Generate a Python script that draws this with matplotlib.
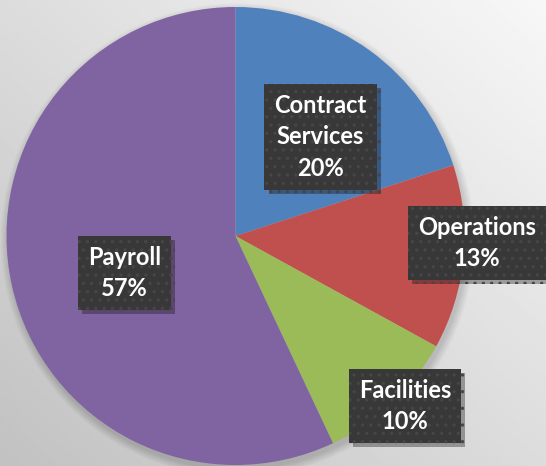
import matplotlib
matplotlib.use("Agg")
import matplotlib.pyplot as plt
import matplotlib.patheffects as pe
import numpy as np

# Budget breakdown (percent)
categories = ["Contract\nServices", "Operations", "Facilities", "Payroll"]
shares = [20, 13, 10, 57]
slice_colors = ["#4f81bd", "#c0504d", "#9bbb59", "#8064a2"]

plt.rcParams['font.family'] = ['Lato', 'DejaVu Sans']
plt.rcParams['hatch.linewidth'] = 1.2

W, H = 546, 466
fig = plt.figure(figsize=(W/100, H/100), dpi=100)

# background: soft diagonal gradient, light top-right, darker bottom-left
bg = fig.add_axes([0, 0, 1, 1])
yy, xx = np.mgrid[0:1:200j, 0:1:200j]
t = (xx + (1 - yy)) / 2  # 1 at top-right, 0 at bottom-left
bg.imshow(t, cmap="gray", vmin=-3.6, vmax=1.15, aspect="auto",
          extent=[0, 1, 0, 1], origin="upper")
bg.axis("off")

ax = fig.add_axes([0, 0, 1, 1])
ax.patch.set_alpha(0)
cx, cy, r = 235.5, H - 236, 229

# blurred shadow under the pie
for k in range(12):
    ax.add_patch(plt.Circle((cx + 2, cy - 4), r + 8 - k*0.7, color="black",
                            alpha=0.012, lw=0))

wedges, _ = ax.pie(shares, colors=slice_colors, startangle=90, counterclock=False,
                   center=(cx, cy), radius=r, wedgeprops=dict(linewidth=0))

# label boxes: (x, y) in pixels from top-left
label_pos = [(320.5, 137), (477, 243), (405, 406), (124.5, 273)]
for name, val, (lx, ly) in zip(categories, shares, label_pos):
    t = ax.text(lx, H - ly, f"{name}\n{val}%", ha="center", va="center",
                color="white", fontsize=17, fontweight="bold", linespacing=1.45,
                bbox=dict(boxstyle="square,pad=0.42", facecolor="#383838",
                          edgecolor="#464646", linewidth=0, hatch=".."))
    t.get_bbox_patch().set_path_effects(
        [pe.SimplePatchShadow(offset=(3, -3), alpha=0.35), pe.Normal()])

ax.set_xlim(0, W)
ax.set_ylim(0, H)
ax.axis("off")

plt.savefig("out.png", dpi=100)
